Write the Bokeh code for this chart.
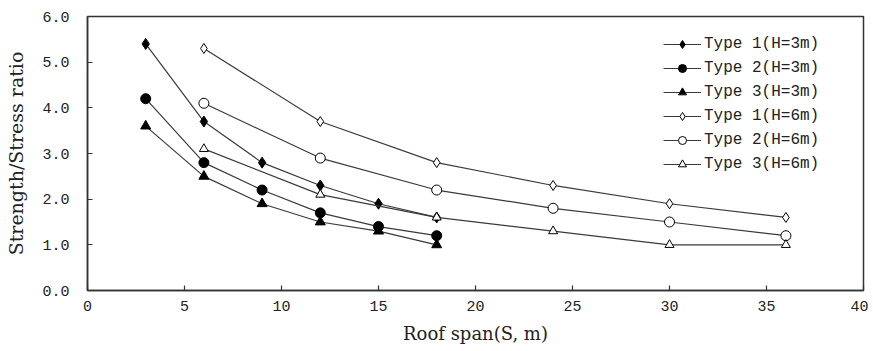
from bokeh.plotting import figure
from bokeh.models import Range1d, FixedTicker, Legend, LegendItem, NumeralTickFormatter
from bokeh.embed import file_html
from bokeh.resources import INLINE

# Data
span_h3 = [3, 6, 9, 12, 15, 18]
span_h6 = [6, 12, 18, 24, 30, 36]
type1_h3 = [5.4, 3.7, 2.8, 2.3, 1.9, 1.6]
type2_h3 = [4.2, 2.8, 2.2, 1.7, 1.4, 1.2]
type3_h3 = [3.6, 2.5, 1.9, 1.5, 1.3, 1.0]
type1_h6 = [5.3, 3.7, 2.8, 2.3, 1.9, 1.6]
type2_h6 = [4.1, 2.9, 2.2, 1.8, 1.5, 1.2]
type3_h6 = [3.1, 2.1, 1.6, 1.3, 1.0, 1.0]
labels = ["Type 1(H=3m)", "Type 2(H=3m)", "Type 3(H=3m)",
          "Type 1(H=6m)", "Type 2(H=6m)", "Type 3(H=6m)"]
x_ticks = [0, 5, 10, 15, 20, 25, 30, 35, 40]
y_ticks = [0, 1, 2, 3, 4, 5, 6]

p = figure(width=868, height=346, output_backend="svg", toolbar_location=None,
           x_range=Range1d(0, 40), y_range=Range1d(0, 6),
           min_border_left=87, min_border_right=5, min_border_top=16, min_border_bottom=56)
p.grid.visible = False
p.outline_line_color = "#333333"
p.outline_line_width = 1.5
p.background_fill_color = "white"
p.border_fill_color = "white"

TICK_FONT = "Liberation Mono"
TITLE_FONT = "DejaVu Serif"
for ax in (p.xaxis[0], p.yaxis[0]):
    ax.axis_line_color = "#333333"
    ax.axis_line_width = 1.5
    ax.major_tick_in = 5
    ax.major_tick_out = 0
    ax.minor_tick_line_color = None
    ax.major_tick_line_color = "#333333"
    ax.major_tick_line_width = 1.2
    ax.major_label_text_font = TICK_FONT
    ax.major_label_text_font_size = "15px"
    ax.major_label_text_color = "#222222"
    ax.axis_label_text_font = TITLE_FONT
    ax.axis_label_text_font_style = "normal"
    ax.axis_label_text_color = "#222222"

p.xaxis.ticker = FixedTicker(ticks=x_ticks)
p.yaxis.ticker = FixedTicker(ticks=y_ticks)
p.yaxis.formatter = NumeralTickFormatter(format="0.0")
p.xaxis.axis_label = "Roof span(S, m)"
p.yaxis.axis_label = "Strength/Stress ratio"
p.xaxis.axis_label_text_font_size = "18px"
p.yaxis.axis_label_text_font_size = "19px"
p.xaxis.major_label_standoff = 10
p.yaxis.major_label_standoff = 18
p.xaxis.axis_label_standoff = 9
p.yaxis.axis_label_standoff = 12

LINE = "#3a3a3a"
series = [
    (span_h3, type1_h3, "diamond", 11, "black"),
    (span_h3, type2_h3, "circle", 10, "black"),
    (span_h3, type3_h3, "triangle", 10, "black"),
    (span_h6, type1_h6, "diamond", 10, "white"),
    (span_h6, type2_h6, "circle", 10, "white"),
    (span_h6, type3_h6, "triangle", 9, "white"),
]
items = []
for (xs, ys, mk, sz, fill), lab in zip(series, labels):
    r1 = p.line(xs, ys, line_color=LINE, line_width=1.2)
    r2 = p.scatter(xs, ys, marker=mk, size=sz, fill_color=fill,
                   line_color="black", line_width=1)
    items.append(LegendItem(label=lab, renderers=[r1, r2]))

legend = Legend(items=items, location=(576, 116), padding=0, margin=0,
                spacing=4, glyph_width=38, glyph_height=20, label_standoff=3,
                label_text_font=TICK_FONT, label_text_font_size="16px",
                label_text_color="#222222", label_height=20,
                border_line_alpha=0, background_fill_alpha=0)
p.add_layout(legend, "center")

open("out.html", "w").write(file_html(p, INLINE))
